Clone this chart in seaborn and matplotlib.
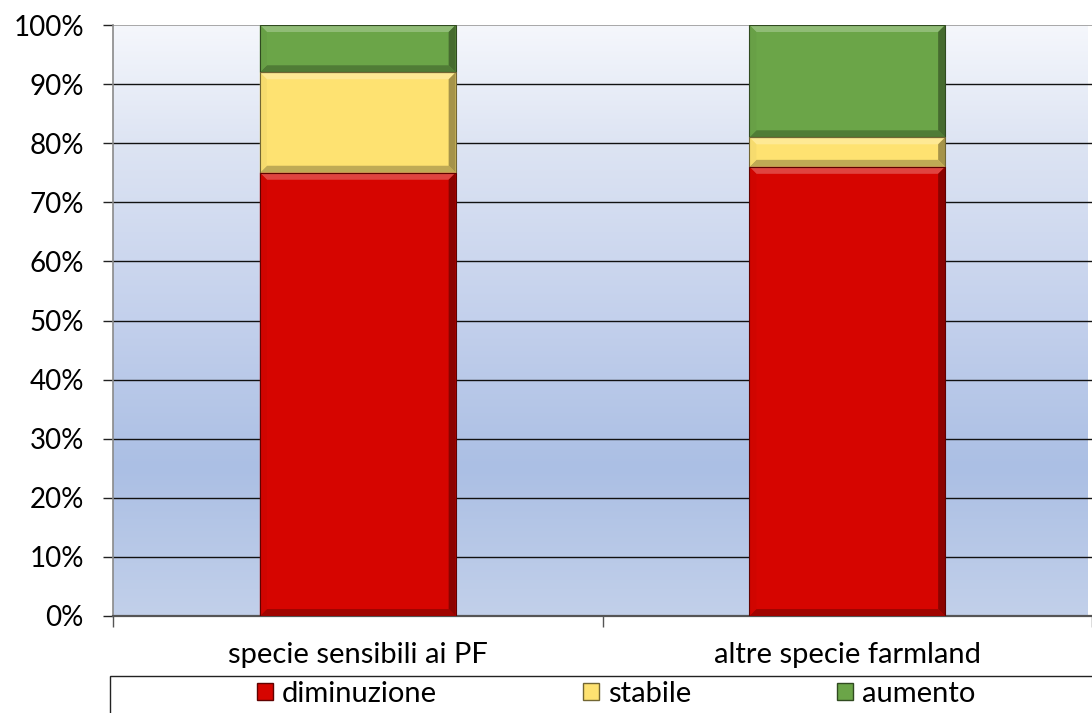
import numpy as np
import pandas as pd
import matplotlib
matplotlib.use("Agg")
import matplotlib.pyplot as plt
from matplotlib.colors import LinearSegmentedColormap, to_rgb
from matplotlib.patches import Polygon, Rectangle
import seaborn as sns

categories = ["specie sensibili ai PF", "altre specie farmland"]
series = ["diminuzione", "stabile", "aumento"]
diminuzione = [75, 76]
stabile = [17, 5]
aumento = [8, 19]
y_ticks = [0, 10, 20, 30, 40, 50, 60, 70, 80, 90, 100]
y_tick_labels = [f"{v}%" for v in y_ticks]

colors = {"diminuzione": "#d60500", "stabile": "#fee271", "aumento": "#6ba548"}

sns.set_theme(style="white")
plt.rcParams["font.family"] = ["Lato", "DejaVu Sans"]

W, H, DPI = 1092, 713, 100
fig = plt.figure(figsize=(W / DPI, H / DPI), dpi=DPI)
ax = fig.add_axes([113 / W, 1 - 616 / H, (W - 113) / W, (616 - 25) / H])

x_hi = -0.5 + (W - 113) * 2 / 984
ax.set_xlim(-0.5, x_hi)
ax.set_ylim(0, 100)

# vertical gradient behind the plot
grad_cmap = LinearSegmentedColormap.from_list(
    "bg",
    [(0.0, "#c2d0ea"), (0.25, "#abbfe4"), (0.5, "#c3d0ec"),
     (0.8, "#dde4f3"), (1.0, "#f5f7fc")],
)
grad = np.linspace(0, 1, 256).reshape(-1, 1)
ax.imshow(grad, cmap=grad_cmap, origin="lower", aspect="auto",
          extent=[-0.5, x_hi, 0, 100], zorder=0)

# stacked bars: draw cumulative totals from the top layer downward
df = pd.DataFrame({"categoria": categories, "diminuzione": diminuzione,
                   "stabile": stabile, "aumento": aumento})
cum = df[series].cumsum(axis=1)
bar_patches = []
for s in reversed(series):
    before = len(ax.patches)
    sns.barplot(x=df["categoria"], y=cum[s], color=colors[s], width=0.4,
                saturation=1, ax=ax, zorder=3, edgecolor="none")
    for p in ax.patches[before:]:
        bar_patches.append((p, s))

# bevelled edges on each stacked segment
fig.canvas.draw()
inv = ax.transData.inverted()
dx = abs(inv.transform((7, 0))[0] - inv.transform((0, 0))[0])
dy = abs(inv.transform((0, 7))[1] - inv.transform((0, 0))[1])


def shade(c, f):
    r, g, b = to_rgb(c)
    if f >= 0:
        return (r + (1 - r) * f, g + (1 - g) * f, b + (1 - b) * f)
    return (r * (1 + f), g * (1 + f), b * (1 + f))


for p, s in bar_patches:
    idx = round(p.get_x() + p.get_width() / 2)
    top = p.get_height()
    bottom = top - df.loc[idx, s]
    x0, x1 = p.get_x(), p.get_x() + p.get_width()
    c = colors[s]
    ddy = min(dy, (top - bottom) / 2)
    faces = [
        ([(x0, top), (x1, top), (x1 - dx, top - ddy), (x0 + dx, top - ddy)], shade(c, 0.25)),
        ([(x0, bottom), (x1, bottom), (x1 - dx, bottom + ddy), (x0 + dx, bottom + ddy)], shade(c, -0.25)),
        ([(x0, bottom), (x0, top), (x0 + dx, top - ddy), (x0 + dx, bottom + ddy)], shade(c, -0.03)),
        ([(x1, bottom), (x1, top), (x1 - dx, top - ddy), (x1 - dx, bottom + ddy)], shade(c, -0.35)),
    ]
    for pts, fc in faces:
        ax.add_patch(Polygon(pts, closed=True, facecolor=fc, edgecolor="none", zorder=4))
    ax.add_patch(Rectangle((x0, bottom), x1 - x0, top - bottom, fill=False,
                           edgecolor=shade(c, -0.55), linewidth=0.8, zorder=5))

# gridlines
for v in y_ticks[1:-1]:
    ax.axhline(v, color="#111111", linewidth=1.0, zorder=1)

ax.set_yticks(y_ticks)
ax.set_yticklabels(y_tick_labels)
ax.set_xticks([0, 1])
ax.set_xticklabels(categories)
ax.set_xticks([-0.5, 0.5, 1.5], minor=True)
ax.set_xlabel("")
ax.set_ylabel("")
ax.tick_params(axis="y", which="major", left=True, length=7, width=1,
               color="#222222", pad=14, labelsize=20, labelcolor="#000000")
ax.tick_params(axis="x", which="major", bottom=False, length=0, pad=19,
               labelsize=21, labelcolor="#000000")
ax.tick_params(axis="x", which="minor", bottom=True, length=8, width=1,
               color="#555555")

for side in ["top", "right"]:
    ax.spines[side].set_visible(False)
ax.spines["left"].set_color("#8a8a8a")
ax.spines["left"].set_linewidth(1.2)
ax.spines["bottom"].set_color("#555555")
ax.spines["bottom"].set_linewidth(1.6)
ax.axhline(100, color="#9a9a9a", linewidth=1.2, zorder=2)

# legend in a box at the bottom
handles = [Rectangle((0, 0), 1, 1, facecolor=colors[s], edgecolor=shade(colors[s], -0.55),
                     linewidth=1.0) for s in series]
leg = fig.legend(handles, series, loc="center", bbox_to_anchor=(616 / W, 1 - 694 / H),
                 ncol=3, frameon=False, fontsize=21, columnspacing=5.0,
                 handlelength=0.55, handleheight=0.55, handletextpad=0.3)
for t in leg.get_texts():
    t.set_color("#000000")
fig.add_artist(Rectangle((110 / W, -0.05), 1.0, (713 - 676) / H + 0.05,
                         transform=fig.transFigure, fill=False,
                         edgecolor="#222222", linewidth=1.0))

fig.savefig("out.png", dpi=DPI, facecolor="white")
